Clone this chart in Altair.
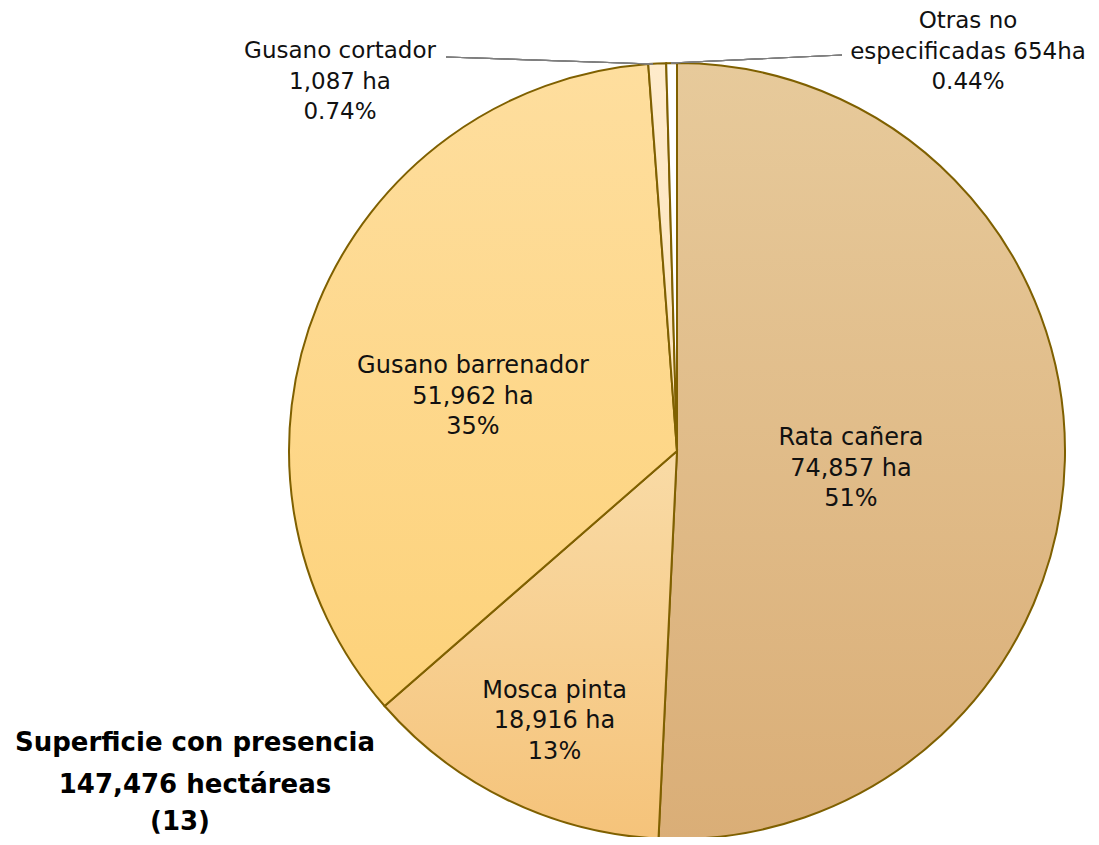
import altair as alt
import pandas as pd

categories = ["Rata cañera", "Mosca pinta", "Gusano barrenador", "Gusano cortador", "Otras no especificadas"]
hectares = [74857, 18916, 51962, 1087, 654]
label_lines = [
    "Rata cañera\n74,857 ha\n51%",
    "Mosca pinta\n18,916  ha\n13%",
    "Gusano barrenador\n51,962 ha\n35%",
    "Gusano cortador\n1,087 ha\n0.74%",
    "Otras no\nespecificadas 654ha\n0.44%",
]
title_main = "Superficie con presencia\n147,476 hectáreas"
title_note = "(13)"

df = pd.DataFrame({"cat": categories, "value": hectares, "label": label_lines,
                   "order": list(range(len(categories)))})
total = sum(hectares)

FONT = "DejaVu Sans"
STROKE = "#7F6000"
CX, CY, R = 669, 443, 388
FS = 24
LH = 30.5

def grad(top, bottom):
    return alt.Gradient(gradient="linear", x1=0, x2=0, y1=0, y2=1,
                        stops=[alt.GradientStop(color=top, offset=0),
                               alt.GradientStop(color=bottom, offset=1)])

fills = {
    "Rata cañera": grad("#E7CA9B", "#DAAE77"),
    "Mosca pinta": grad("#F9DBA6", "#F5C37A"),
    "Gusano barrenador": grad("#FEDE9E", "#FDD27A"),
    "Gusano cortador": grad("#FEEBCB", "#FDE3B8"),
    "Otras no especificadas": grad("#FFFFFF", "#FFFFFF"),
}

theta_scale = alt.Scale(domain=[0, total])

base = (alt.Chart(df)
        .transform_window(cum="sum(value)", sort=[alt.SortField("order")])
        .transform_calculate(start="datum.cum - datum.value",
                             mid="datum.cum - datum.value / 2"))

layers = []
for c in categories:
    layers.append(
        base.transform_filter(alt.datum.cat == c)
        .mark_arc(radius=R, fill=fills[c], stroke=STROKE, strokeWidth=2)
        .encode(theta=alt.Theta("start:Q", scale=theta_scale), theta2="cum:Q",
                x=alt.value(CX), y=alt.value(CY))
    )

inside = {"Rata cañera": (174, 0, -17), "Mosca pinta": (295, 6, -26), "Gusano barrenador": (213, -7, -4)}
for c, (rad, dx, dy) in inside.items():
    layers.append(
        base.transform_filter(alt.datum.cat == c)
        .mark_text(radius=rad, dx=dx, dy=dy, font=FONT, fontSize=FS, lineBreak="\n",
                   lineHeight=LH, color="#111111", align="center", baseline="middle")
        .encode(theta=alt.Theta("mid:Q", scale=theta_scale), text="label:N",
                x=alt.value(CX), y=alt.value(CY))
    )

outside = {"Gusano cortador": (332, 43), "Otras no especificadas": (960, 13)}
for c, (lx, ly) in outside.items():
    layers.append(
        base.transform_filter(alt.datum.cat == c)
        .mark_text(font=FONT, fontSize=23, lineBreak="\n", lineHeight=LH,
                   color="#111111", align="center", baseline="middle")
        .encode(text="label:N", x=alt.value(lx), y=alt.value(ly))
    )

# leader lines
layers.append(alt.Chart(df).mark_rule(color="#7F7F7F", strokeWidth=1.2).encode(
    x=alt.value(438), y=alt.value(49), x2=alt.value(645), y2=alt.value(56)))
layers.append(alt.Chart(df).mark_rule(color="#7F7F7F", strokeWidth=1.2).encode(
    x=alt.value(834), y=alt.value(47), x2=alt.value(663), y2=alt.value(55)))

# title block
title_df = pd.DataFrame({"t": [title_main], "n": [title_note]})
layers.append(alt.Chart(title_df).mark_text(font=FONT, fontSize=26, fontWeight="bold",
                                            lineBreak="\n", lineHeight=42, color="#000000",
                                            align="center", baseline="middle")
              .encode(text="t:N", x=alt.value(187), y=alt.value(735)))
layers.append(alt.Chart(title_df).mark_text(font=FONT, fontSize=26, fontWeight="bold",
                                            color="#000000", align="center", baseline="middle")
              .encode(text="n:N", x=alt.value(172), y=alt.value(814)))

chart = (alt.layer(*layers)
         .properties(width=1083, height=829, padding=0, autosize="none", background="white")
         .configure_view(stroke=None))

chart.save("out.html", embed_options={"renderer": "svg", "actions": False})
